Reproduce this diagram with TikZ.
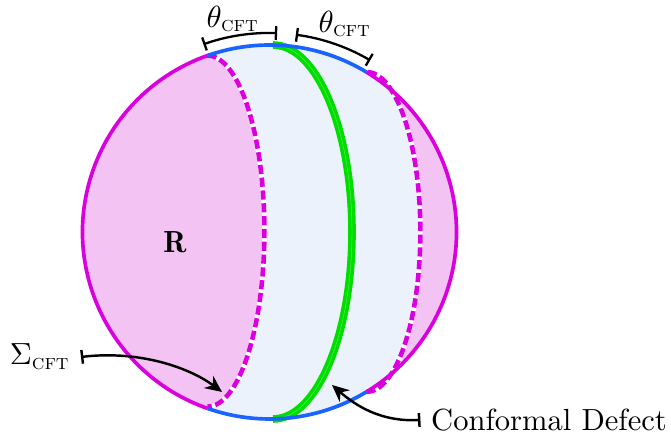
\documentclass[tikz,border=0pt]{standalone}
\usepackage{amsmath,amssymb}
\usepackage{fontspec}
\usepackage{tikz}
\usetikzlibrary{arrows.meta,calc,positioning}

\definecolor{capfill}{RGB}{243,196,243}
\definecolor{capline}{RGB}{218,0,222}
\definecolor{ballfill}{RGB}{235,242,252}
\definecolor{ballline}{RGB}{25,100,255}
\definecolor{defect}{RGB}{0,222,0}

\tikzset{
  capedge/.style={capline,line width=1.2pt},
  balledge/.style={ballline,line width=1.2pt},
  gapline/.style={white,line width=1.5pt},
  cutline/.style={capline,line width=1.5pt,dash pattern=on 3pt off 1.2pt},
  defectline/.style={defect,line width=2.5pt},
  anglebar/.style={black,line width=0.75pt,{Bar[width=4.5pt]}-{Bar[width=4.5pt]}},
  pointer/.style={black,line width=0.8pt,{Bar[width=4.5pt]}-{Stealth[length=5.5pt,width=5pt]}}
}

\begin{document}
\begin{tikzpicture}[x=0.0115cm,y=-0.0115cm,>=Latex]
  \useasboundingbox (0,0) rectangle (671,435);
  \coordinate (c) at (269.5,232);
  % sphere and the two caps
  \fill[ballfill] (c) circle[radius=187];
  \fill[capfill] (c) ++(109.3:187) arc[start angle=109.3,end angle=250.6,radius=187]
    arc[start angle=-90,end angle=90,x radius=57,y radius=175.5] -- cycle;
  \fill[capfill] (c) ++(-58.8:187) arc[start angle=-58.8,end angle=58.8,radius=187]
    arc[start angle=90,end angle=-90,x radius=54,y radius=160] -- cycle;
  % cuts
  \draw[gapline] (c) ++(250.6:187) arc[start angle=-90,end angle=90,x radius=57,y radius=175.5];
  \draw[cutline] (c) ++(250.6:187) arc[start angle=-90,end angle=90,x radius=57,y radius=175.5];
  \draw[gapline] (c) ++(58.8:187) arc[start angle=90,end angle=-90,x radius=54,y radius=160];
  \draw[cutline] (c) ++(58.8:187) arc[start angle=90,end angle=-90,x radius=54,y radius=160];
  % defect
  \draw[defectline] (273,45) arc[start angle=-90,end angle=90,x radius=79,y radius=187];
  \draw[defect!65!white,line width=0.15pt] (273,45) arc[start angle=-90,end angle=90,x radius=79,y radius=187];
  % outline
  \draw[capedge] (c) ++(109.3:187) arc[start angle=109.3,end angle=250.6,radius=187];
  \draw[capedge] (c) ++(-58.8:187) arc[start angle=-58.8,end angle=58.8,radius=187];
  \draw[balledge] (c) ++(250.6:187) arc[start angle=250.6,end angle=301.2,radius=187];
  \draw[balledge] (c) ++(58.8:187) arc[start angle=58.8,end angle=109.3,radius=187];
  % angles
  \draw[anglebar] (c) ++(250.6:199) arc[start angle=250.6,end angle=272.2,radius=199];
  \draw[anglebar] (c) ++(277.6:199) arc[start angle=277.6,end angle=300.4,radius=199];
  \node (thl) at (233,19) {$\theta_{\text{\textsc{cft}}}$};
  \node (thr) at (345,24) {$\theta_{\text{\textsc{cft}}}$};
  % labels
  \node (reg) at (175,242) {$\mathbf{R}$};
  \node (sig) at (40,357) {$\Sigma_{\text{\textsc{cft}}}$};
  \node (dfc) at (549,420) {Conformal Defect};
  \coordinate (sigtip) at (222,392);
  \coordinate (dfctip) at (332,385);
  \draw[pointer] (sig.east) .. controls (140,350) and (190,368) .. (sigtip);
  \draw[pointer] (dfc.west) .. controls (380,422) and (355,405) .. (dfctip);
\end{tikzpicture}
\end{document}
